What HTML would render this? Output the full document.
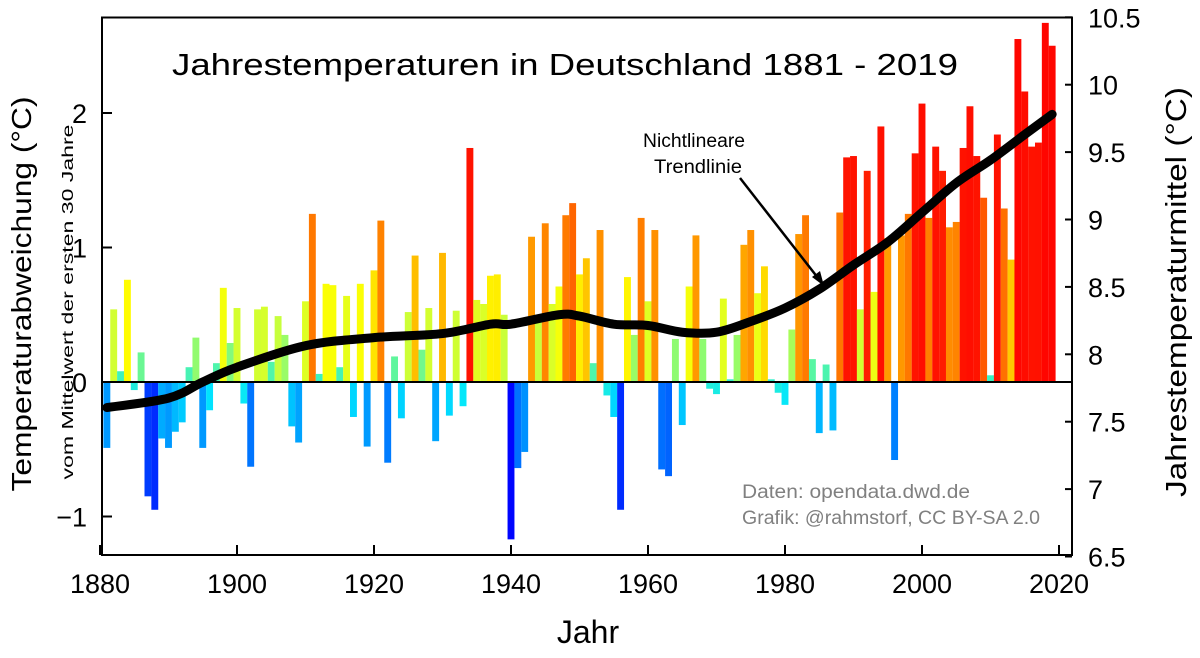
<!DOCTYPE html>
<html><head><meta charset="utf-8"><style>
body{margin:0;background:#fff;}
svg{display:block;font-family:"Liberation Sans",sans-serif;}
</style></head><body>
<svg id="chart" width="1200" height="658" viewBox="0 0 1200 658" xmlns="http://www.w3.org/2000/svg">
<g id="bars"></g>
<line x1="102" y1="382" x2="1072" y2="382" stroke="#000" stroke-width="2"/>
<path id="trend" fill="none" stroke="#000" stroke-width="9" stroke-linejoin="round" stroke-linecap="round"/>
<rect x="102" y="17.5" width="970" height="537.5" fill="none" stroke="#000" stroke-width="2"/>
<g id="axes"></g>
<text x="172" y="75" font-size="31" textLength="786" lengthAdjust="spacingAndGlyphs">Jahrestemperaturen in Deutschland 1881 - 2019</text>
<text x="643" y="147" font-size="19" textLength="102" lengthAdjust="spacingAndGlyphs">Nichtlineare</text>
<text x="654" y="173" font-size="19" textLength="88" lengthAdjust="spacingAndGlyphs">Trendlinie</text>
<line x1="740" y1="178" x2="818" y2="278" stroke="#000" stroke-width="2.5"/>
<polygon points="824,286 812,277 820,271" fill="#000"/>
<text x="742" y="498" font-size="19" fill="#808080" textLength="228" lengthAdjust="spacingAndGlyphs">Daten: opendata.dwd.de</text>
<text x="742" y="524" font-size="19" fill="#808080" textLength="298" lengthAdjust="spacingAndGlyphs">Grafik: @rahmstorf, CC BY-SA 2.0</text>
<text transform="translate(31,294) rotate(-90)" text-anchor="middle" font-size="28" textLength="395" lengthAdjust="spacingAndGlyphs">Temperaturabweichung (°C)</text>
<text transform="translate(73,302) rotate(-90)" text-anchor="middle" font-size="16" textLength="355" lengthAdjust="spacingAndGlyphs">vom Mittelwert der ersten 30 Jahre</text>
<text transform="translate(1186,292) rotate(-90)" text-anchor="middle" font-size="29" textLength="410" lengthAdjust="spacingAndGlyphs">Jahrestemperaturmittel (°C)</text>
<text x="588" y="643" text-anchor="middle" font-size="32">Jahr</text>
</svg>
<script>
const years = [];
for (let y = 1881; y <= 2019; y++) years.push(y);
const anomalies = [
-0.49,0.54,0.08,0.76,-0.06,0.22,-0.85,-0.95,-0.42,-0.49,
-0.37,-0.30,0.11,0.33,-0.49,-0.21,0.14,0.70,0.29,0.55,
-0.16,-0.63,0.54,0.56,0.15,0.49,0.35,-0.33,-0.45,0.60,
1.25,0.06,0.73,0.72,0.11,0.64,-0.26,0.73,-0.48,0.83,
1.20,-0.60,0.19,-0.27,0.52,0.94,0.24,0.55,-0.44,0.96,
-0.25,0.53,-0.18,1.74,0.61,0.58,0.79,0.80,0.50,-1.17,
-0.64,-0.52,1.08,0.50,1.18,0.58,0.71,1.24,1.33,0.80,
0.92,0.14,1.13,-0.10,-0.26,-0.95,0.78,0.35,1.22,0.60,
1.13,-0.65,-0.70,0.32,-0.32,0.71,1.09,0.32,-0.05,-0.09,
0.62,0.02,0.35,1.02,1.13,0.66,0.86,0.02,-0.08,-0.17,
0.39,1.10,1.24,0.17,-0.38,0.13,-0.36,1.26,1.67,1.68,
0.54,1.57,0.67,1.90,1.07,-0.58,1.09,1.25,1.70,2.07,
1.22,1.75,1.57,1.15,1.19,1.74,2.05,1.68,1.37,0.05,
1.84,1.29,0.91,2.55,2.16,1.75,1.78,2.67,2.50];
const trendYears = [1881,1890,1895,1900,1910,1920,1930,1937,1940,1947,1950,1955,1960,1965,1970,1975,1980,1985,1990,1995,2000,2005,2010,2015,2019];
const trendValues = [-0.19,-0.12,0.0,0.11,0.27,0.33,0.36,0.43,0.43,0.50,0.49,0.43,0.42,0.37,0.37,0.45,0.55,0.69,0.87,1.04,1.26,1.48,1.65,1.84,1.99];
const xTicks = [1880,1900,1920,1940,1960,1980,2000,2020];
const yLeftTicks = [-1,0,1,2];
const yLeftLabels = ["\u22121","0","1","2"];
const yRightTicks = [6.5,7,7.5,8,8.5,9,9.5,10,10.5];

const NS = "http://www.w3.org/2000/svg";
const X = y => 511 + 6.85 * (y - 1940);
const Y = v => 382 - 134.5 * v;
const YR = t => 354.3 - 134.8 * (t - 8);

function colorFor(v){
  const stops = [[-1.2,[0,0,255]],[-0.85,[0,60,255]],[-0.5,[0,150,255]],[-0.2,[0,230,255]],[0.15,[80,245,170]],[0.45,[190,255,70]],[0.75,[255,255,0]],[1.0,[255,170,0]],[1.3,[255,110,0]],[1.6,[255,20,0]],[3,[255,0,0]]];
  if (v <= stops[0][0]) return "rgb(0,0,255)";
  for (let i=1;i<stops.length;i++){
    if (v <= stops[i][0]){
      const [a,ca]=stops[i-1],[b,cb]=stops[i];const t=(v-a)/(b-a);
      return "rgb("+ca.map((c,k)=>Math.round(c+(cb[k]-c)*t)).join(",")+")";
    }
  }
  return "rgb(255,0,0)";
}

const bars = document.getElementById("bars");
years.forEach((yr,i)=>{
  const v = anomalies[i];
  const r = document.createElementNS(NS,"rect");
  r.setAttribute("x", X(yr)-3.45);
  r.setAttribute("width", 6.9);
  r.setAttribute("y", Math.min(Y(v),Y(0)));
  r.setAttribute("height", Math.abs(Y(v)-Y(0)));
  r.setAttribute("fill", colorFor(v));
  
  
  bars.appendChild(r);
});

const pts = trendYears.map((y,i)=>[X(y),Y(trendValues[i])]);
let d = "M"+pts[0][0]+","+pts[0][1];
for (let i=0;i<pts.length-1;i++){
  const p0=pts[Math.max(0,i-1)],p1=pts[i],p2=pts[i+1],p3=pts[Math.min(pts.length-1,i+2)];
  const c1=[p1[0]+(p2[0]-p0[0])/6,p1[1]+(p2[1]-p0[1])/6];
  const c2=[p2[0]-(p3[0]-p1[0])/6,p2[1]-(p3[1]-p1[1])/6];
  d+=" C"+c1.join(",")+" "+c2.join(",")+" "+p2.join(",");
}
document.getElementById("trend").setAttribute("d", d);

const axes = document.getElementById("axes");
function add(tag, attrs, text){
  const e=document.createElementNS(NS,tag);
  for (const k in attrs) e.setAttribute(k, attrs[k]);
  if (text!==undefined) e.textContent=text;
  axes.appendChild(e); return e;
}
xTicks.forEach(t=>{
  const l=add("line",{x1:X(t),x2:X(t),y1:555,y2:545,stroke:"#000","stroke-width":2});
  
  
  const tx=add("text",{x:X(t),y:593,"text-anchor":"middle","font-size":27},String(t));
  
  
});
yLeftTicks.forEach((t,i)=>{
  const l=add("line",{x1:102,x2:112,y1:Y(t),y2:Y(t),stroke:"#000","stroke-width":2});
  
  
  const tx=add("text",{x:87,y:Y(t)+10,"text-anchor":"end","font-size":27},yLeftLabels[i]);
  
  
});
yRightTicks.forEach(t=>{
  const l=add("line",{x1:1065,x2:1072,y1:YR(t),y2:YR(t),stroke:"#000","stroke-width":2});
  
  
  const tx=add("text",{x:1088,y:YR(t)+10,"text-anchor":"start","font-size":27},String(t));
  
  
});
</script>
</body></html>
